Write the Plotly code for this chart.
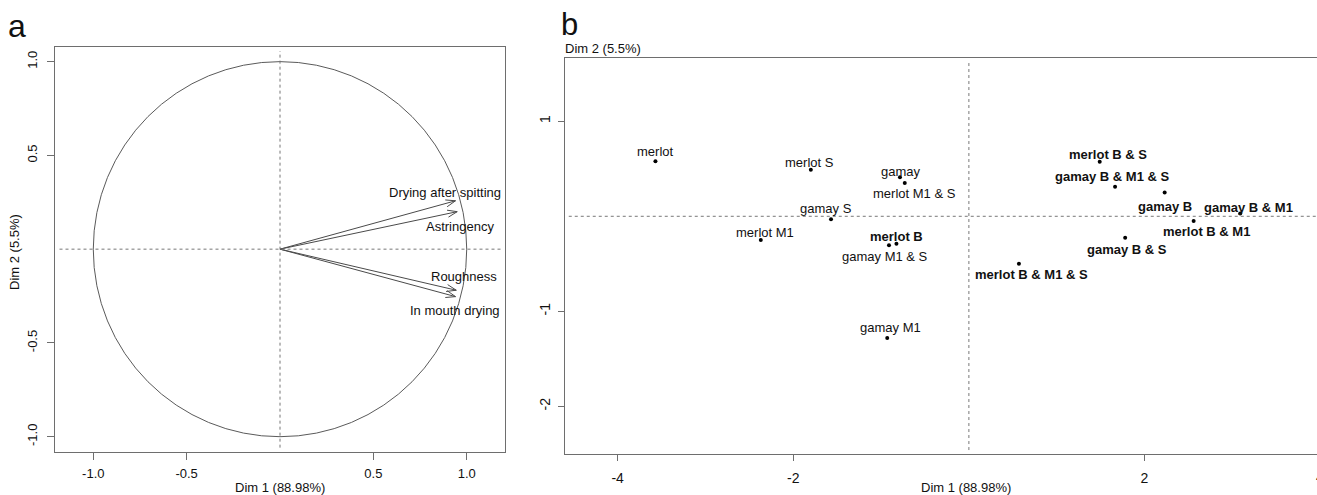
import math
import plotly.graph_objects as go

# ---------------- data ----------------
# Panel a: variables (correlation circle)
var_names = ["Drying after spitting", "Astringency", "Roughness", "In mouth drying"]
var_dim1 = [0.940, 0.949, 0.944, 0.940]
var_dim2 = [0.258, 0.200, -0.219, -0.253]

# Panel b: individuals
ind_names = ["merlot", "merlot S", "gamay", "merlot M1 & S", "gamay S", "merlot M1",
             "gamay M1 & S", "merlot B", "gamay M1", "merlot B & M1 & S", "gamay B & S",
             "merlot B & M1", "gamay B", "gamay B & M1 & S", "merlot B & S", "gamay B & M1"]
ind_dim1 = [-3.57, -1.80, -0.785, -0.73, -1.57, -2.37, -0.91, -0.825, -0.93, 0.57, 1.78,
            2.56, 2.23, 1.665, 1.49, 3.09]
ind_dim2 = [0.58, 0.49, 0.41, 0.35, -0.03, -0.25, -0.305, -0.29, -1.28, -0.50, -0.225,
            -0.05, 0.25, 0.31, 0.575, 0.03]

ticks_a = [-1.0, -0.5, 0.5, 1.0]
ticks_a_text = ["-1.0", "-0.5", "0.5", "1.0"]
ticks_b_x = [-4, -2, 2]
ticks_b_x_text = ["-4", "-2", "2"]
edge_tick_text = "4"          # tick label cut off at the right edge
ticks_b_y = [-2, -1, 1]
ticks_b_y_text = ["-2", "-1", "1"]

dim1_title = "Dim 1 (88.98%)"
dim2_title = "Dim 2 (5.5%)"

# ---------------- label placement (pixels: dx right, dy down) ----------------
var_label_off = [(-11, -8), (3, 15), (8, -14), (-1, 14)]
ind_label_off = [(0, -10), (-1, -7), (1, -6), (10, 10), (-5, -11), (4, -8),
                 (-4, 11), (0, -7), (3, -10), (12.6, 11), (1.6, 12),
                 (12.5, 10.5), (0, 14), (-3, -10), (8, -7), (8, -6)]

W, H = 1317, 495
FONT = "Liberation Sans, Arial, Helvetica, sans-serif"
LINE = "#6e6e6e"
DASH = "#777777"


def pxx(x):
    return x / W


def pyy(y):
    return 1 - y / H


fig = go.Figure()

# ---- panel a ----
fig.add_shape(type="circle", xref="x", yref="y", x0=-1, y0=-1, x1=1, y1=1,
              line=dict(color="#5a5a5a", width=1))
fig.add_shape(type="line", xref="x domain", yref="y", x0=0.01, x1=0.995, y0=0, y1=0,
              line=dict(color=DASH, width=1, dash="3px,3px"))
fig.add_shape(type="line", xref="x", yref="y domain", x0=0, x1=0, y0=0.01, y1=0.99,
              line=dict(color=DASH, width=1, dash="3px,3px"))

L = 0.055
A = math.radians(20)
for i, name in enumerate(var_names):
    x, y = var_dim1[i], var_dim2[i]
    ang = math.atan2(y, x)
    hx1, hy1 = x - L * math.cos(ang - A), y - L * math.sin(ang - A)
    hx2, hy2 = x - L * math.cos(ang + A), y - L * math.sin(ang + A)
    fig.add_trace(go.Scatter(x=[0, x, None, hx1, x, hx2], y=[0, y, None, hy1, y, hy2],
                             mode="lines", line=dict(color="#4a4a4a", width=1),
                             xaxis="x", yaxis="y", hoverinfo="skip"))
    dx, dy = var_label_off[i]
    fig.add_annotation(x=x, y=y, xref="x", yref="y", text=name, showarrow=False,
                       xshift=dx, yshift=-dy, font=dict(family=FONT, size=13, color="#111"))

# ---- panel b ----
fig.add_shape(type="line", xref="x2 domain", yref="y2", x0=0.005, x1=1, y0=0, y1=0,
              line=dict(color=DASH, width=1, dash="3px,3px"))
fig.add_shape(type="line", xref="x2", yref="y2 domain", x0=0, x1=0, y0=0.01, y1=0.99,
              line=dict(color=DASH, width=1, dash="3px,3px"))

fig.add_trace(go.Scatter(x=ind_dim1, y=ind_dim2, mode="markers",
                         marker=dict(color="black", size=4),
                         xaxis="x2", yaxis="y2", hoverinfo="text", text=ind_names))
for i, name in enumerate(ind_names):
    bold = "B" in name.split()
    dx, dy = ind_label_off[i]
    fig.add_annotation(x=ind_dim1[i], y=ind_dim2[i], xref="x2", yref="y2",
                       text=f"<b>{name}</b>" if bold else name, showarrow=False,
                       xshift=dx, yshift=-dy, font=dict(family=FONT, size=13, color="#111"))


# ---- text annotations (titles, panel letters) ----
def txt(x, y, s, size=13, angle=0):
    fig.add_annotation(x=pxx(x), y=pyy(y), xref="paper", yref="paper", text=s,
                       showarrow=False, textangle=angle, xanchor="center", yanchor="middle",
                       font=dict(family=FONT, size=size, color="#111"))


txt(16.5, 26, "a", size=32)
txt(569.5, 25, "b", size=31)
txt(280, 487, dim1_title)
txt(15, 252, dim2_title, angle=-90)
txt(602.5, 48.5, dim2_title)
txt(966, 487, dim1_title)
txt(1319.5, 476.5, edge_tick_text, size=14)

axis_common = dict(showgrid=False, zeroline=False, showline=True, linecolor=LINE,
                   linewidth=1, ticks="outside", tickcolor=LINE, ticklen=7,
                   tickfont=dict(family=FONT, size=13, color="#111"), fixedrange=True)
axis_b = {**axis_common, "tickfont": dict(family=FONT, size=14, color="#111"), "ticklen": 6}

fig.update_layout(
    width=W, height=H, margin=dict(l=0, r=0, t=0, b=0),
    paper_bgcolor="white", plot_bgcolor="white", showlegend=False,
    xaxis=dict(domain=[pxx(55), pxx(505)], range=[-1.205, 1.205], anchor="y",
               tickvals=ticks_a, ticktext=ticks_a_text, mirror=True,
               ticklabelstandoff=3, **axis_common),
    yaxis=dict(domain=[pyy(451.7), pyy(47)], range=[-1.08, 1.078], anchor="x",
               tickvals=ticks_a, ticktext=ticks_a_text, mirror=True, tickangle=-90,
               ticklabelstandoff=5, **axis_common),
    xaxis2=dict(domain=[pxx(565), 1.0], range=[-4.6, 3.965], anchor="y2",
                tickvals=ticks_b_x, ticktext=ticks_b_x_text, mirror=True,
                ticklabelstandoff=5, **axis_b),
    yaxis2=dict(domain=[pyy(454), pyy(58.3)], range=[-2.502, 1.663], anchor="x2",
                tickvals=ticks_b_y, ticktext=ticks_b_y_text, tickangle=-90,
                ticklabelstandoff=2, **axis_b),
)

fig.write_html("out.html", config={"displayModeBar": False},
               post_script="document.body.style.margin='0';document.body.style.overflow='hidden';"
                           "document.documentElement.style.overflow='hidden';")
